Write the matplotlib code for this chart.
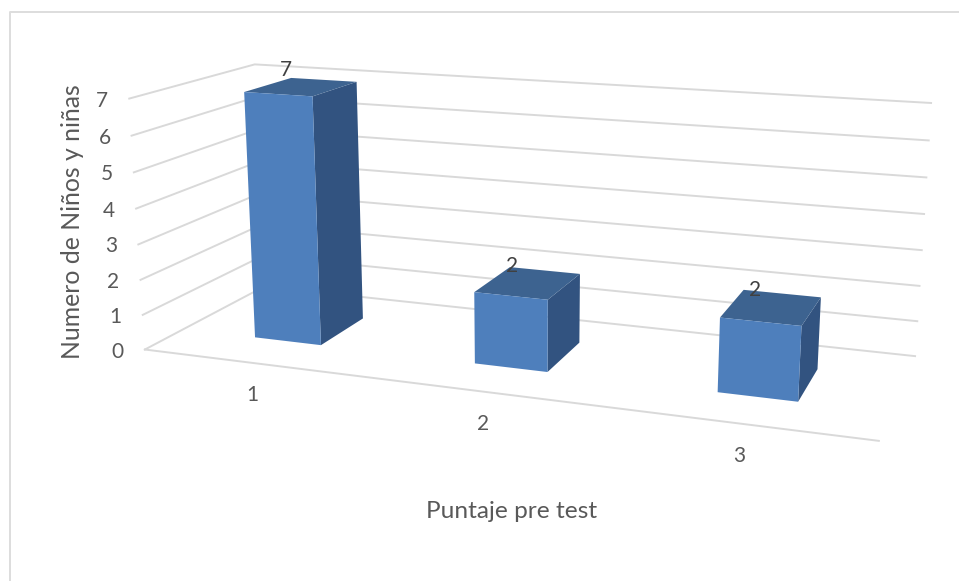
import numpy as np
import matplotlib
matplotlib.use('Agg')
from matplotlib import pyplot

categorias = ['1', '2', '3']
ninos = [7, 2, 2]
ticks_y = [0, 1, 2, 3, 4, 5, 6, 7]

pyplot.rcParams['font.family'] = ['Lato', 'DejaVu Sans']

# camera of the fake 3D box: (x, value, depth) -> pixel, fitted on the box corners
box_3d = [(0, 0, 0), (3, 0, 0), (0, 7, 0), (0, 0, 1), (3, 0, 1), (0, 7, 1), (3, 7, 1)]
box_px = [(145, 349), (879, 441), (129, 99), (264, 287), (915, 356), (255, 64), (931, 103)]

rows = []
for (X, Y, Z), (u, v) in zip(box_3d, box_px):
    rows.append([X, Y, Z, 1, 0, 0, 0, 0, -u*X, -u*Y, -u*Z, -u])
    rows.append([0, 0, 0, 0, X, Y, Z, 1, -v*X, -v*Y, -v*Z, -v])
cam = np.linalg.svd(np.array(rows, float))[2][-1].reshape(3, 4)

def proj(x, y, z):
    p = cam @ np.array([x, y, z, 1.0])
    return p[0]/p[2], p[1]/p[2]

fig = pyplot.figure(figsize=(9.59, 5.81), dpi=100)
ax = fig.add_axes([0, 0, 1, 1])
ax.set_xlim(0, 959)
ax.set_ylim(581, 0)
ax.axis('off')

grid_col = '#D9D9D9'
text_col = '#595959'

# chart border, only top and left are in the picture
ax.plot([10, 10, 959], [581, 12, 12], color='#DDDDDD', lw=1.4, zorder=1)

for t in ticks_y:
    pts = [proj(0, t, 0), proj(0, t, 1), proj(3, t, 1)]
    ax.plot([p[0] for p in pts], [p[1] for p in pts], color=grid_col, lw=1.4, zorder=1)
    px, py = proj(0, t, 0)
    ax.text(px-27, py+2, str(t), color=text_col, fontsize=15, ha='center', va='center')
a, b = proj(0, 0, 0), proj(3, 0, 0)
ax.plot([a[0], b[0]], [a[1], b[1]], color=grid_col, lw=1.4, zorder=1)

half = 0.155
z0, z1 = 0.3, 0.7
front_col, top_col, side_col = '#4E7FBC', '#3D6390', '#325380'

for i, (cat, val) in enumerate(zip(categorias, ninos)):
    x0, x1 = i+0.5-half, i+0.5+half
    front = [proj(x0, 0, z0), proj(x1, 0, z0), proj(x1, val, z0), proj(x0, val, z0)]
    top = [proj(x0, val, z0), proj(x1, val, z0), proj(x1, val, z1), proj(x0, val, z1)]
    side = [proj(x1, 0, z0), proj(x1, 0, z1), proj(x1, val, z1), proj(x1, val, z0)]
    ax.fill(*zip(*side), color=side_col, lw=0, zorder=3)
    ax.fill(*zip(*top), color=top_col, lw=0, zorder=3)
    ax.fill(*zip(*front), color=front_col, lw=0, zorder=3)
    cx, cy = proj(i+0.5, val, (z0+z1)/2)
    ax.text(cx-16, cy-17, str(val), color='#404040', fontsize=15, ha='center', va='center', zorder=4)
    lx, ly = proj(i+0.5, 0, 0)
    ax.text(lx, ly+32, cat, color=text_col, fontsize=15, ha='center', va='center')

ax.text(73, 222, 'Numero de Niños y niñas', color=text_col, fontsize=17.8, rotation=90, ha='center', va='center')
ax.text(512, 511, 'Puntaje pre test', color=text_col, fontsize=17.6, ha='center', va='center')

fig.savefig('out.png', dpi=100)
pyplot.close()
